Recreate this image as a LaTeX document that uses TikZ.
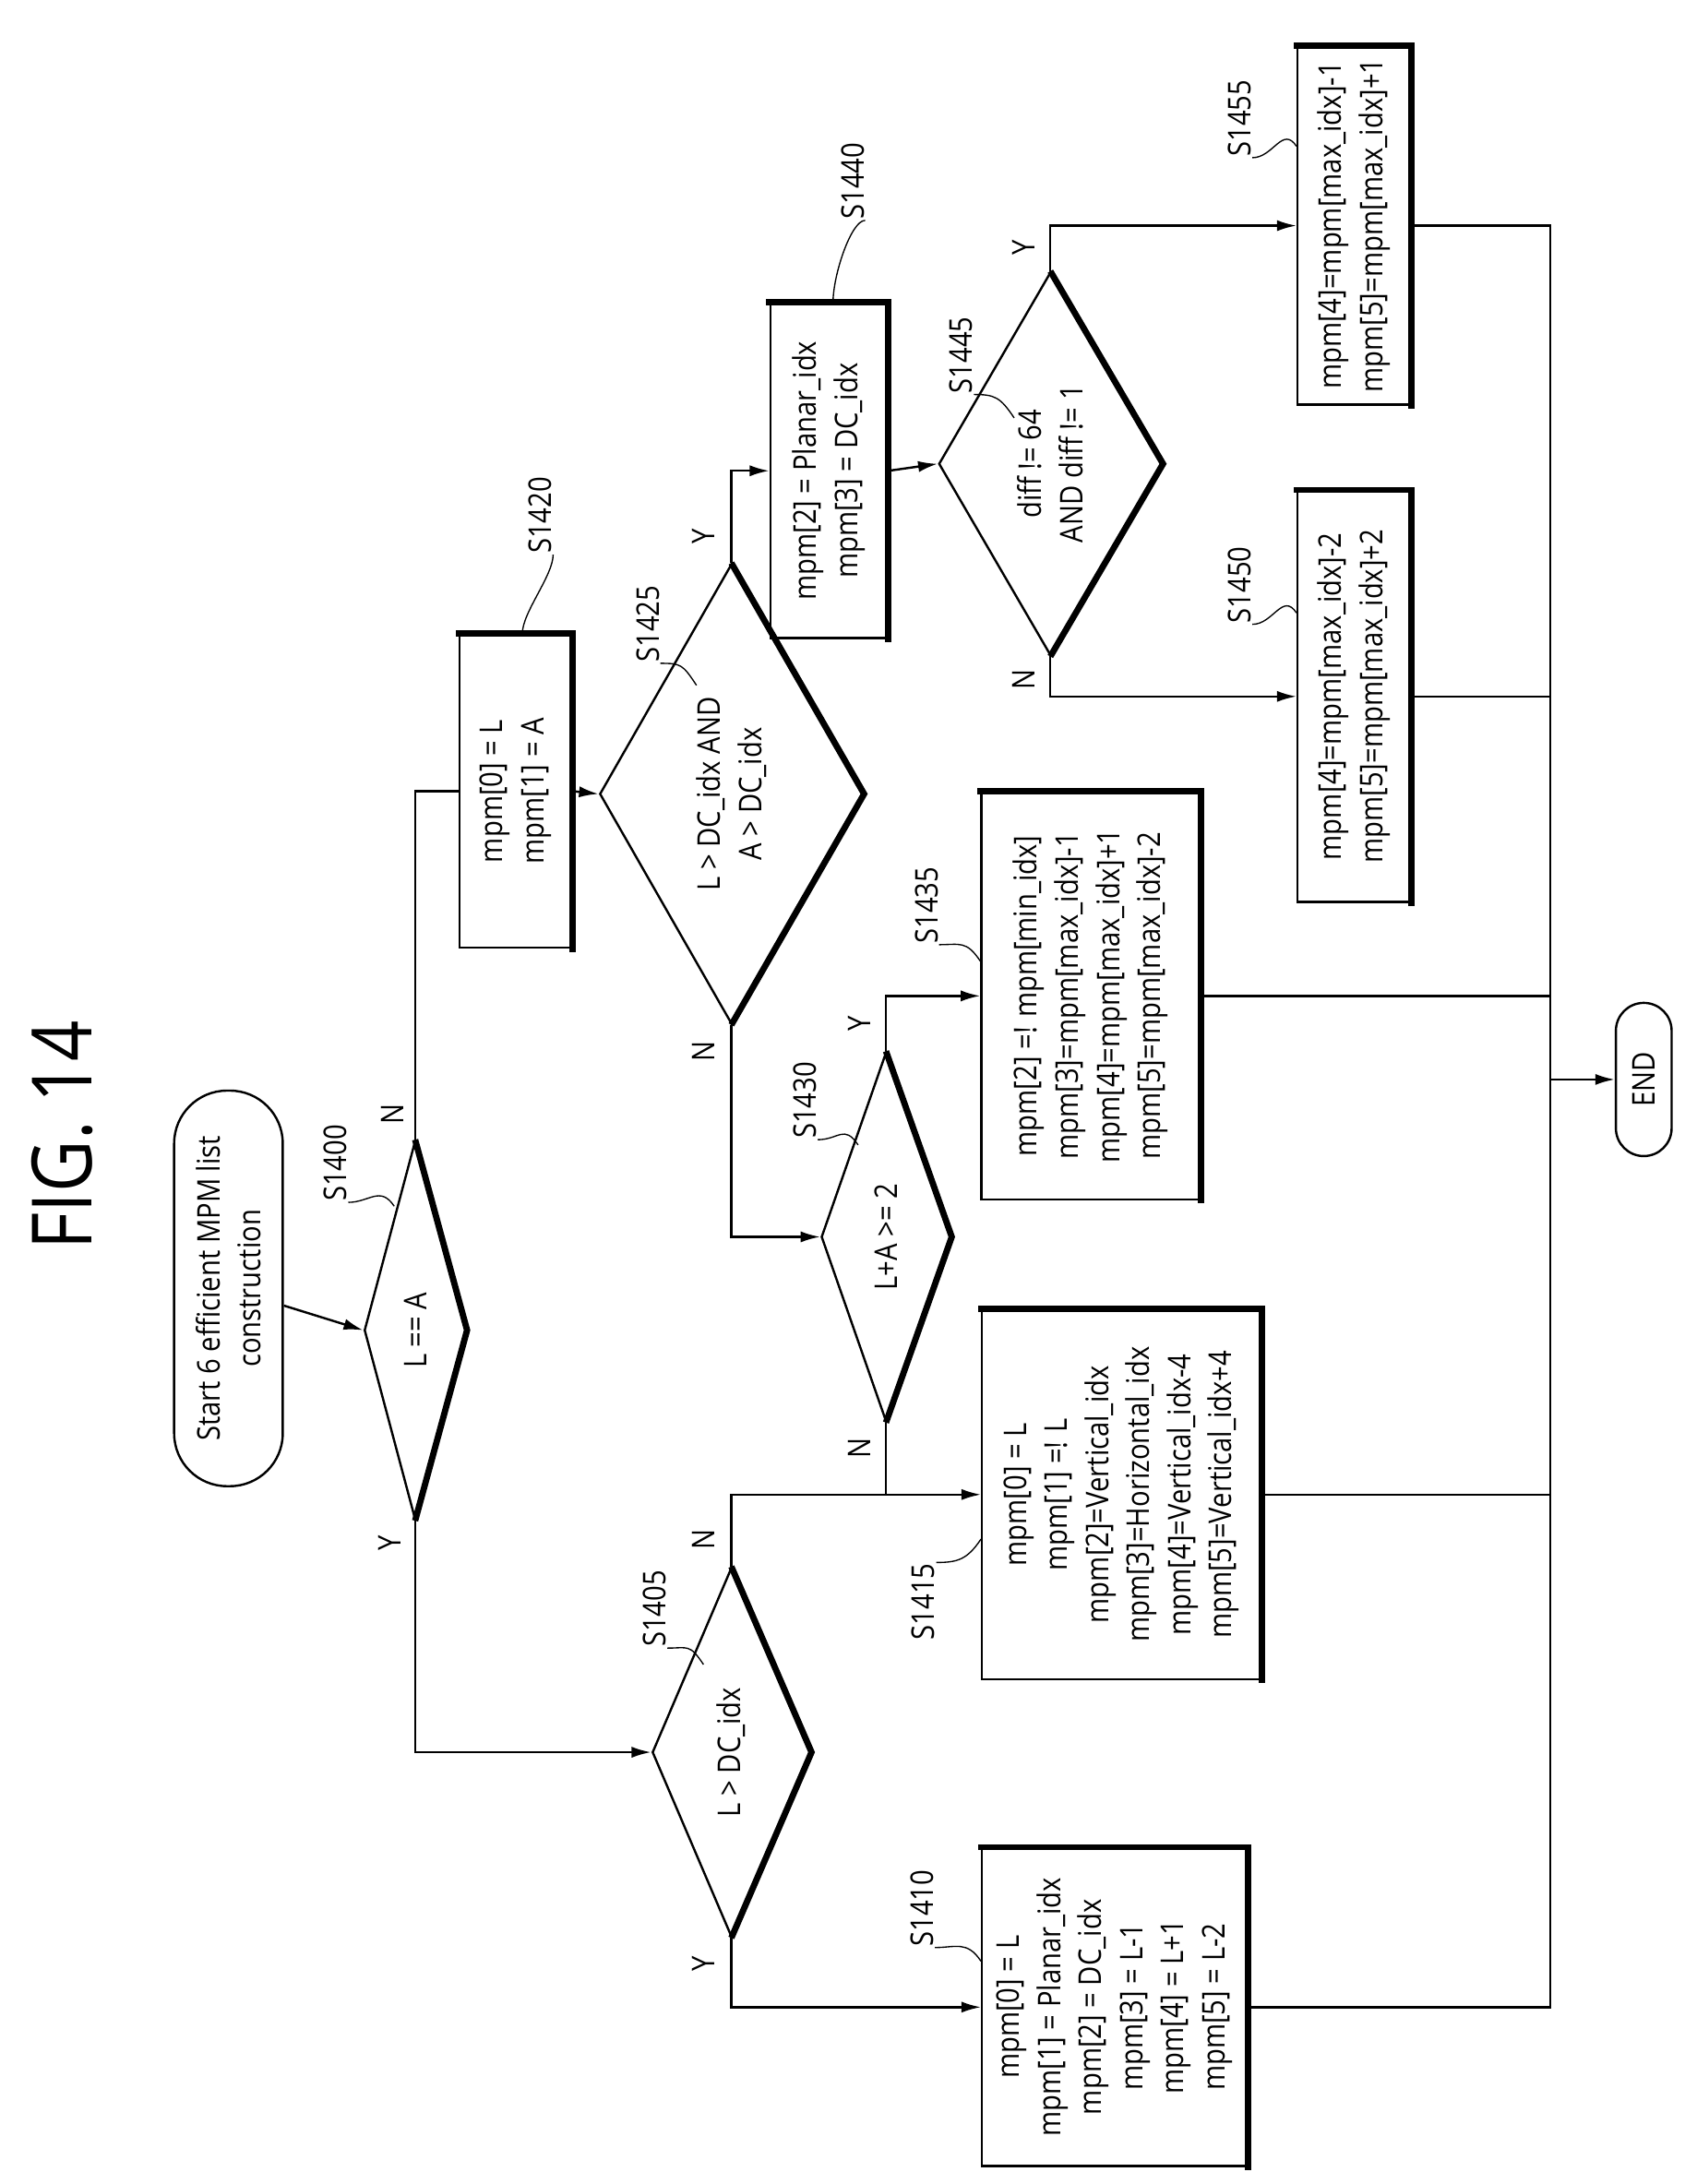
\documentclass[tikz,border=0pt]{standalone}
\usepackage{fontspec}
\setmainfont{Open Sans}[FakeStretch=0.86]
\usetikzlibrary{shapes.geometric,arrows.meta}
\newcommand\thickbox[1]{\draw[line width=4.5mm,line cap=rect] (#1.north east) -- (#1.south east) -- (#1.south west);}
\newcommand\thickdia[1]{\draw[line width=4.5mm,line join=miter] (#1.east) -- (#1.south) -- (#1.west);}
\begin{document}
\begin{tikzpicture}[x=1mm,y=-1mm,line width=1.6mm,
  font=\fontsize{64}{84}\selectfont,
  every node/.style={rotate=90,inner sep=0pt},
  proc/.style={draw,rectangle,align=center},
  test/.style={draw,diamond,align=center,line width=1.6mm},
  term/.style={draw,rectangle,rounded corners=38mm,align=center,line width=1.6mm},
  tag/.style={font=\fontsize{64}{84}\selectfont},
  yn/.style={font=\fontsize{64}{84}\selectfont},
  flow/.style={-{Latex[length=14mm,width=8mm]}},
  squig/.style={line width=0.9mm}]
\useasboundingbox (0,0) rectangle (1218,1568);

\node[font=\fontsize{170}{170}\selectfont] (title) at (45,815) {FIG. 14};

% terminals
\node[term,minimum width=284mm,minimum height=78mm] (start) at (164,925) {Start 6 efficient MPM list\\construction};
\node[term,minimum width=110mm,minimum height=40mm,rounded corners=20mm] (end) at (1180,775) {END};

% decisions
\node[test,minimum width=272mm,minimum height=73mm] (d1400) at (298,955) {L == A};
\node[test,minimum width=265mm,minimum height=70mm] (d1405) at (525,1258) {L > DC\_idx};
\node[test,minimum width=330mm,minimum height=105mm] (d1425) at (525,570) {L > DC\_idx AND\\A > DC\_idx};
\node[test,minimum width=265mm,minimum height=72mm] (d1430) at (636,888) {L+A >= 2};
\node[test,minimum width=275mm,minimum height=108mm] (d1445) at (754,333) {diff != 64\\AND diff != 1};
\foreach \d in {d1400,d1405,d1425,d1430,d1445} {\thickdia{\d}}

% process boxes
\node[proc,minimum width=225mm,minimum height=80mm] (b1420) at (370,568) {mpm[0] = L\\mpm[1] = A};
\node[proc,minimum width=240mm,minimum height=84mm] (b1440) at (595,338) {mpm[2] = Planar\_idx\\mpm[3] = DC\_idx};
\node[proc,minimum width=257mm,minimum height=81mm] (b1455) at (972,162) {mpm[4]=mpm[max\_idx]-1\\mpm[5]=mpm[max\_idx]+1};
\node[proc,minimum width=295mm,minimum height=81mm] (b1450) at (972,500) {mpm[4]=mpm[max\_idx]-2\\mpm[5]=mpm[max\_idx]+2};
\node[proc,minimum width=292mm,minimum height=157mm] (b1435) at (783,715) {mpm[2] =! mpm[min\_idx]\\mpm[3]=mpm[max\_idx]-1\\mpm[4]=mpm[max\_idx]+1\\mpm[5]=mpm[max\_idx]-2};
\node[proc,minimum width=265mm,minimum height=200mm] (b1415) at (805,1073) {mpm[0] = L\\mpm[1] =! L\\mpm[2]=Vertical\_idx\\mpm[3]=Horizontal\_idx\\mpm[4]=Vertical\_idx-4\\mpm[5]=Vertical\_idx+4};
\node[proc,minimum width=228mm,minimum height=190mm] (b1410) at (800,1441) {mpm[0] = L\\mpm[1] = Planar\_idx\\mpm[2] = DC\_idx\\mpm[3] = L-1\\mpm[4] = L+1\\mpm[5] = L-2};
\foreach \b in {b1420,b1440,b1455,b1450,b1435,b1415,b1410} {\thickbox{\b}}

% step tags
\node[tag] (t1400) at (241,835) {S1400};
\node[tag] (t1405) at (470,1155) {S1405};
\node[tag] (t1410) at (662,1370) {S1410};
\node[tag] (t1415) at (663,1150) {S1415};
\node[tag] (t1420) at (388,370) {S1420};
\node[tag] (t1425) at (465,448) {S1425};
\node[tag] (t1430) at (578,790) {S1430};
\node[tag] (t1435) at (665,650) {S1435};
\node[tag] (t1440) at (612,130) {S1440};
\node[tag] (t1445) at (690,255) {S1445};
\node[tag] (t1450) at (890,420) {S1450};
\node[tag] (t1455) at (890,85) {S1455};

\draw[squig] (t1400.south west) .. controls +(15,0) and +(-10,-15) .. (283,866);
\draw[squig] (t1405.south west) .. controls +(15,0) and +(-10,-15) .. (505,1195);
\draw[squig] (t1410.south west) .. controls +(15,0) and +(-10,-15) .. (b1410.north east |- 0,1408);
\draw[squig] (t1415.south east) .. controls +(15,0) and +(-10,15) .. (b1415.north east |- 0,1105);
\draw[squig] (t1420.south west) .. controls +(0,15) and +(0,-15) .. (b1420.east -| 375,0);
\draw[squig] (t1425.south west) .. controls +(15,0) and +(-10,-15) .. (500,492);
\draw[squig] (t1430.south west) .. controls +(15,0) and +(-10,-15) .. (616,822);
\draw[squig] (t1435.south west) .. controls +(15,0) and +(-10,-15) .. (b1435.north east |- 0,690);
\draw[squig] (t1440.south west) .. controls +(-10,0) and +(0,-20) .. (b1440.east -| 598,0);
\draw[squig] (t1445.south west) .. controls +(15,0) and +(-10,-15) .. (728,300);
\draw[squig] (t1450.south west) .. controls +(15,0) and +(-10,-15) .. (b1450.north east |- 0,440);
\draw[squig] (t1455.south west) .. controls +(15,0) and +(-10,-15) .. (b1455.north east |- 0,105);

% connectors
\draw[flow] (start) -- (d1400.north);
\draw[flow] (d1400.west) |- (d1405.north);
\draw (d1400.east) |- (b1420.north);
\draw[flow] (b1420.south) -- (d1425.north);
\draw[flow] (d1425.east) |- (b1440.north);
\draw[flow] (b1440.south) -- (d1445.north);
\draw[flow] (d1445.east) |- (b1455.north);
\draw[flow] (d1445.west) |- (b1450.north);
\draw[flow] (d1425.west) |- (d1430.north);
\draw[flow] (d1430.east) |- (b1435.north);
\draw (d1430.west) -- (d1430.west |- b1415.north);
\draw[flow] (d1405.east) |- (b1415.north);
\draw[flow] (d1405.west) |- (b1410.north);

\coordinate (bus top) at (1113,162);
\coordinate (bus bot) at (1113,1441);
\draw (b1455.south) -- (bus top) -- (bus bot) -- (b1410.south);
\draw (b1450.south) -- (b1450.south -| bus top);
\draw (b1435.south) -- (b1435.south -| bus top);
\draw (b1415.south) -- (b1415.south -| bus top);
\draw[flow] (end.north -| bus top) -- (end.north);

% branch letters
\node[yn] (y1400) at (280,1108) {Y};
\node[yn] (n1400) at (282,800) {N};
\node[yn] (y1405) at (505,1410) {Y};
\node[yn] (n1405) at (505,1105) {N};
\node[yn] (y1425) at (505,385) {Y};
\node[yn] (n1425) at (505,755) {N};
\node[yn] (y1430) at (617,735) {Y};
\node[yn] (n1430) at (617,1040) {N};
\node[yn] (y1445) at (735,178) {Y};
\node[yn] (n1445) at (735,488) {N};
\end{tikzpicture}
\end{document}
